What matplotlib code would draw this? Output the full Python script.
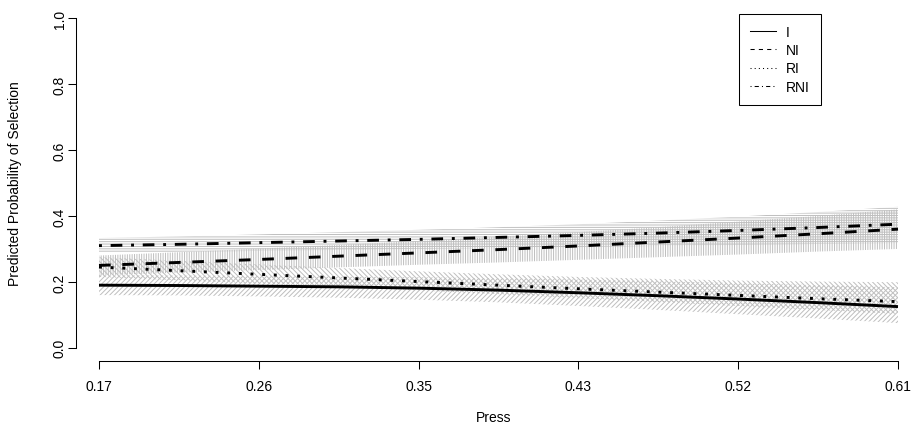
import matplotlib
matplotlib.use('agg')
import matplotlib.pyplot as plt
from matplotlib.lines import Line2D

plt.rcParams['font.family'] = ['Liberation Sans', 'DejaVu Sans']
plt.rcParams['hatch.linewidth'] = 0.7

# predicted probabilities and confidence bounds by press
press = [0.17, 0.214, 0.258, 0.302, 0.346, 0.39, 0.434, 0.478, 0.522, 0.566, 0.61]

i_fit = [0.190, 0.189, 0.187, 0.185, 0.181, 0.175, 0.167, 0.158, 0.148, 0.137, 0.125]
i_lo = [0.160, 0.159, 0.156, 0.152, 0.146, 0.138, 0.127, 0.115, 0.102, 0.089, 0.075]
i_hi = [0.220, 0.219, 0.218, 0.216, 0.214, 0.211, 0.207, 0.202, 0.196, 0.190, 0.184]

ni_fit = [0.250, 0.259, 0.268, 0.278, 0.288, 0.298, 0.309, 0.321, 0.333, 0.346, 0.360]
ni_lo = [0.220, 0.228, 0.236, 0.244, 0.252, 0.259, 0.267, 0.275, 0.283, 0.292, 0.300]
ni_hi = [0.280, 0.290, 0.301, 0.312, 0.324, 0.337, 0.351, 0.366, 0.383, 0.400, 0.420]

ri_fit = [0.245, 0.234, 0.223, 0.212, 0.201, 0.190, 0.179, 0.169, 0.159, 0.149, 0.140]
ri_lo = [0.215, 0.205, 0.195, 0.185, 0.174, 0.163, 0.151, 0.139, 0.127, 0.115, 0.103]
ri_hi = [0.275, 0.264, 0.253, 0.242, 0.232, 0.223, 0.215, 0.209, 0.204, 0.201, 0.199]

rni_fit = [0.310, 0.314, 0.319, 0.324, 0.329, 0.335, 0.341, 0.348, 0.356, 0.365, 0.375]
rni_lo = [0.288, 0.291, 0.294, 0.297, 0.300, 0.303, 0.306, 0.309, 0.312, 0.315, 0.318]
rni_hi = [0.333, 0.338, 0.344, 0.351, 0.358, 0.366, 0.375, 0.386, 0.398, 0.412, 0.428]

labels = ['I', 'NI', 'RI', 'RNI']
tick_labels = ['0.17', '0.26', '0.35', '0.43', '0.52', '0.61']

W, H = 916, 435
fs = 10
fig = plt.figure(figsize=(W / 100, H / 100), dpi=100)
# plot region in pixels: left 76, right 912, top 6, bottom 362
ax = fig.add_axes([76 / W, (H - 362) / H, (912 - 76) / W, (362 - 6) / H])

grey = '#bebebe'
series = [
    (i_fit, i_lo, i_hi, '///////', (None,)),
    (ni_fit, ni_lo, ni_hi, '|||||||', (4, 4)),
    (ri_fit, ri_lo, ri_hi, '\\\\\\\\\\\\\\', (1, 3)),
    (rni_fit, rni_lo, rni_hi, '-------', (1, 3, 4, 3)),
]

for fit, lo, hi, hatch, dash in series:
    ax.fill_between(press, lo, hi, facecolor='none', edgecolor=grey,
                    hatch=hatch, linewidth=0)

handles = []
for (fit, lo, hi, hatch, dash), lab in zip(series, labels):
    ln, = ax.plot(press, fit, color='black', lw=2.1, solid_capstyle='butt',
                  dash_capstyle='butt')
    h = Line2D([], [], color='black', lw=0.75, dash_capstyle='butt')
    if dash[0] is not None:
        ln.set_dashes(dash)
        h.set_dashes(dash)
    handles.append(h)

scale = 799 / 0.44
ax.set_xlim(0.17 - 23 / scale, 0.61 + 14 / scale)
ax.set_ylim(-0.04, 1.04)

ax.spines['top'].set_visible(False)
ax.spines['right'].set_visible(False)
ax.spines['left'].set_bounds(0, 1)
ax.spines['bottom'].set_bounds(0.17, 0.61)
ax.spines['left'].set_linewidth(0.75)
ax.spines['bottom'].set_linewidth(0.75)

xt = [0.17 + 0.088 * k for k in range(6)]
ax.set_xticks(xt)
ax.set_xticklabels(tick_labels)
ax.set_yticks([0, 0.2, 0.4, 0.6, 0.8, 1.0])
ax.set_yticklabels(['0.0', '0.2', '0.4', '0.6', '0.8', '1.0'], rotation=90, va='center')
ax.tick_params(length=5.8, width=0.75, labelsize=fs)
ax.tick_params(axis='x', pad=7.5)
ax.tick_params(axis='y', pad=1)

ax.set_xlabel('Press', fontsize=fs, labelpad=12)
ax.set_ylabel('Predicted Probability of Selection', fontsize=fs, labelpad=22)

leg = ax.legend(handles, labels, loc='upper left',
                bbox_to_anchor=(739 / W, (H - 15) / H), bbox_transform=fig.transFigure,
                fontsize=fs, handlelength=1.86, handletextpad=0.7,
                labelspacing=0.3, borderpad=0.8, borderaxespad=0,
                fancybox=False, framealpha=1, edgecolor='black')
leg.get_frame().set_linewidth(0.75)

fig.savefig('out.png', dpi=100)
